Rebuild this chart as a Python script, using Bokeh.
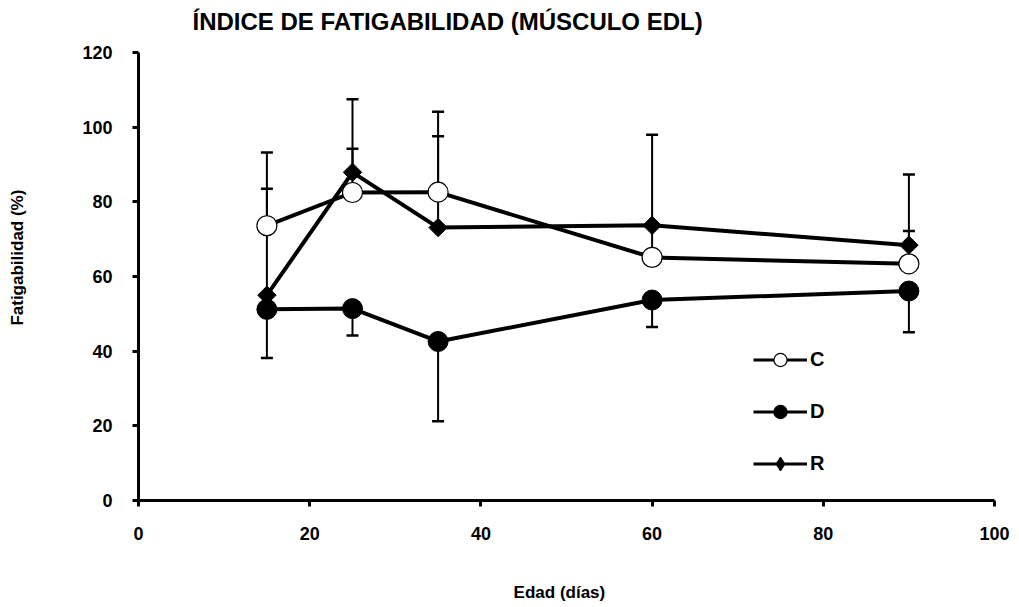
import numpy as np
from bokeh.plotting import figure
from bokeh.models import (Range1d, Whisker, ColumnDataSource, TeeHead, Title,
                          Legend, LegendItem)
from bokeh.embed import file_html
from bokeh.resources import INLINE

# ---- data ----
dias = [15, 25, 35, 60, 90]
C = [73.6, 82.5, 82.6, 65.1, 63.4]
C_err = [9.9, 11.7, 15.0, 8.5, 8.8]
D = [51.2, 51.4, 42.6, 53.7, 56.1]
D_err = [13.0, 7.2, 21.4, 7.2, 11.0]
R = [55.0, 87.9, 73.1, 73.7, 68.4]
R_err = [38.2, 19.6, 31.0, 24.3, 18.9]
x_ticks = [0, 20, 40, 60, 80, 100]
y_ticks = [0, 20, 40, 60, 80, 100, 120]
series_names = ["C", "D", "R"]
title_text = "ÍNDICE DE FATIGABILIDAD (MÚSCULO EDL)"
x_label = "Edad (días)"
y_label = "Fatigabilidad (%)"

FONT = "Liberation Sans"
NB = "\u00a0"

p = figure(frame_width=856, frame_height=448,
           min_border_left=138, min_border_right=17,
           min_border_top=52, min_border_bottom=107,
           x_range=Range1d(0, 100), y_range=Range1d(0, 120),
           output_backend="svg", toolbar_location=None,
           background_fill_color="white", border_fill_color="white")
p.outline_line_color = None
p.grid.visible = False

for ax in (p.xaxis[0], p.yaxis[0]):
    ax.axis_line_width = 3
    ax.axis_line_color = "black"
    ax.major_tick_line_width = 3
    ax.major_tick_line_color = "black"
    ax.major_tick_out = 6
    ax.major_tick_in = 0
    ax.minor_tick_out = 0
    ax.minor_tick_in = 0
    ax.major_label_text_font = FONT
    ax.major_label_text_font_style = "bold"
    ax.major_label_text_font_size = "18px"
    ax.major_label_text_color = "black"
    ax.axis_label_text_font = FONT
    ax.axis_label_text_font_style = "bold"
    ax.axis_label_text_font_size = "17px"
    ax.axis_label_text_color = "black"
p.xaxis.ticker = x_ticks
p.yaxis.ticker = y_ticks
p.xaxis.major_label_standoff = 20
p.yaxis.major_label_standoff = 20
# labels sit slightly off-centre in the reference; pad with no-break spaces
p.xaxis.axis_label = x_label + NB * 3
p.yaxis.axis_label = NB * 8 + y_label
p.xaxis.axis_label_standoff = 40
p.yaxis.axis_label_standoff = 52

# ---- error bars (one-sided) ----
srcC = ColumnDataSource(dict(x=dias, y=C, up=[a + b for a, b in zip(C, C_err)]))
srcR = ColumnDataSource(dict(x=dias, y=R, up=[a + b for a, b in zip(R, R_err)]))
srcD = ColumnDataSource(dict(x=dias, y=D, lo=[a - b for a, b in zip(D, D_err)]))

for src in (srcC, srcR):
    w = Whisker(base="x", upper="up", lower="y", source=src,
                line_width=2, line_color="black",
                upper_head=TeeHead(size=12, line_width=2.5, line_color="black"),
                lower_head=None)
    p.add_layout(w)
wD = Whisker(base="x", upper="y", lower="lo", source=srcD,
             line_width=2, line_color="black",
             lower_head=TeeHead(size=12, line_width=2.5, line_color="black"),
             upper_head=None)
p.add_layout(wD)

# ---- series ----
LW = 4
p.line("x", "y", source=srcC, line_width=LW, line_color="black")
p.scatter("x", "y", source=srcC, marker="circle", size=20,
          fill_color="white", line_color="black", line_width=1.2)
p.line("x", "y", source=srcR, line_width=LW, line_color="black")
p.scatter("x", "y", source=srcR, marker="square", angle=np.pi / 4, size=13,
          fill_color="black", line_color="black")
p.line("x", "y", source=srcD, line_width=LW, line_color="black")
p.scatter("x", "y", source=srcD, marker="circle", size=20,
          fill_color="black", line_color="black")

# ---- legend (helper renderers with no visible data) ----
nan_src = ColumnDataSource(dict(x=[np.nan], y=[np.nan]))
items = []
specs = [("circle", "white"), ("circle", "black"), ("diamond", "black")]
for name, (mk, fill) in zip(series_names, specs):
    lr = p.line("x", "y", source=nan_src, line_width=3, line_color="black")
    sr = p.scatter("x", "y", source=nan_src, marker=mk, fill_color=fill,
                   line_color="black", line_width=1.2)
    items.append(LegendItem(label=name, renderers=[lr, sr]))

legend = Legend(items=items, location=(615, 20),
                glyph_width=54, glyph_height=33, label_height=33,
                spacing=19, padding=0, margin=0, label_standoff=3,
                border_line_color=None, background_fill_alpha=0,
                label_text_font=FONT, label_text_font_style="bold",
                label_text_font_size="20px", label_text_color="black")
p.add_layout(legend)

# ---- title (an invisible spacer lifts it away from the frame) ----
p.add_layout(Title(text=NB, text_font_size="1px", standoff=15), "above")
p.add_layout(Title(text=title_text, align="left", offset=54, standoff=0,
                   text_font=FONT, text_font_style="bold",
                   text_font_size="24px", text_color="black"), "above")

open("out.html", "w").write(file_html(p, INLINE))
